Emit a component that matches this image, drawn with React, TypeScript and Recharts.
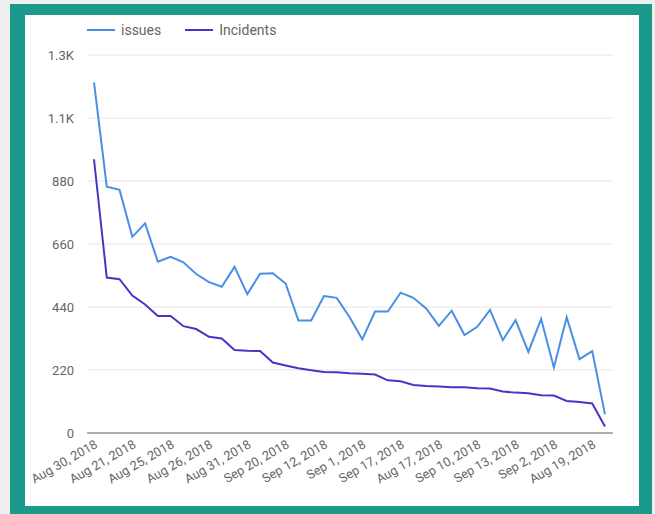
import React from "react";
import { LineChart, Line, XAxis, YAxis, CartesianGrid } from "recharts";

const categories = [
  "Aug 30, 2018", "Sep 4, 2018", "Aug 28, 2018",
  "Aug 21, 2018", "Aug 23, 2018", "Aug 27, 2018",
  "Aug 25, 2018", "Aug 24, 2018", "Aug 29, 2018",
  "Aug 26, 2018", "Aug 22, 2018", "Sep 5, 2018",
  "Aug 31, 2018", "Sep 6, 2018", "Sep 3, 2018",
  "Sep 20, 2018", "Sep 7, 2018", "Sep 11, 2018",
  "Sep 12, 2018", "Sep 14, 2018", "Aug 20, 2018",
  "Sep 1, 2018", "Sep 8, 2018", "Sep 9, 2018",
  "Sep 17, 2018", "Sep 18, 2018", "Sep 19, 2018",
  "Aug 17, 2018", "Sep 15, 2018", "Sep 16, 2018",
  "Sep 10, 2018", "Aug 18, 2018", "Sep 21, 2018",
  "Sep 13, 2018", "Sep 22, 2018", "Sep 23, 2018",
  "Sep 2, 2018", "Sep 24, 2018", "Sep 25, 2018",
  "Aug 19, 2018", "Sep 26, 2018",
];

const issues = [
  1224, 860, 849, 685, 732, 598, 615, 596, 555, 527,
  511, 580, 485, 556, 558, 522, 393, 393, 478, 472,
  405, 327, 424, 424, 490, 472, 435, 374, 427, 342,
  371, 430, 324, 394, 283, 398, 229, 404, 258, 286,
  65,
];

const incidents = [
  956, 543, 537, 480, 449, 409, 409, 373, 363, 336,
  330, 290, 287, 286, 246, 236, 226, 219, 213, 212,
  209, 207, 204, 184, 181, 168, 164, 162, 160, 160,
  156, 155, 145, 141, 139, 132, 131, 112, 108, 103,
  23,
];

const yTicks = [0, 220, 440, 660, 880, 1100, 1320];
const yTickLabels = ["0", "220", "440", "660", "880", "1.1K", "1.3K"];

const seriesNames = ["issues", "Incidents"];
const seriesColors = ["#4a8fe6", "#4636c4"];

const data = categories.map((c, i) => ({
  date: c,
  issues: issues[i],
  incidents: incidents[i],
}));

export default function App() {
  return (
    <div style={{ position: "absolute", left: 0, top: 0, width: 655, height: 514, background: "#efefef" }}>
      <div style={{ position: "absolute", left: 10, top: 4, width: 642, height: 510, background: "#1b9a8c" }} />
      <div style={{ position: "absolute", left: 25, top: 15, width: 614, height: 491, background: "#ffffff" }}>
        <div style={{ position: "absolute", left: 62, top: 7, display: "flex", alignItems: "center", fontFamily: "Roboto", fontSize: 14, color: "#666", zIndex: 2 }}>
          {seriesNames.map((n, i) => (
            <div key={n} style={{ display: "flex", alignItems: "center", marginRight: 24 }}>
              <div style={{ width: 28, height: 2, background: seriesColors[i], marginRight: 6 }} />
              <span>{n}</span>
            </div>
          ))}
        </div>
        <LineChart width={614} height={491} data={data} margin={{ top: 40, right: 26, bottom: 0, left: 0 }}>
          <CartesianGrid vertical={false} stroke="#e6e6e6" />
          <XAxis
            dataKey="date"
            interval={2}
            padding={{ left: 7, right: 8 }}
            tickLine={false}
            axisLine={{ stroke: "#999", strokeWidth: 1.5 }}
            height={73}
            angle={-30}
            textAnchor="end"
            tickMargin={0}
            tick={{ fontFamily: "Roboto", fontSize: 12.7, fill: "#666" }}
          />
          <YAxis
            width={62}
            domain={[0, 1320]}
            ticks={yTicks}
            tickFormatter={(v: number) => yTickLabels[yTicks.indexOf(v)]}
            tickLine={false}
            axisLine={false}
            tickMargin={7}
            tick={{ fontFamily: "Roboto", fontSize: 13, fill: "#666" }}
          />
          <Line type="linear" dataKey="issues" name="issues" stroke={seriesColors[0]} strokeWidth={2} dot={false} isAnimationActive={false} />
          <Line type="linear" dataKey="incidents" name="Incidents" stroke={seriesColors[1]} strokeWidth={2} dot={false} isAnimationActive={false} />
        </LineChart>
      </div>
    </div>
  );
}
